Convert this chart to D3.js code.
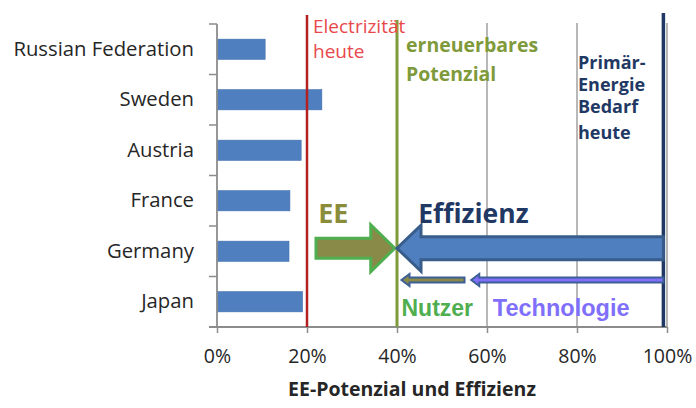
<!DOCTYPE html>
<html><head><meta charset="utf-8">
<script src="https://cdn.jsdelivr.net/npm/d3@7"></script>
<style>body{margin:0;background:#fff}svg{display:block}</style>
</head><body><svg id="c" width="696" height="408"></svg>
<script>
const categories = ["Russian Federation","Sweden","Austria","France","Germany","Japan"];
const values = [10.7, 23.3, 18.7, 16.2, 16.0, 19.0];
const xTicks = [0,20,40,60,80,100];
const refLines = [
  {name:"Electrizität heute", value:20, color:"#b42020", width:2.5},
  {name:"erneuerbares Potenzial", value:40, color:"#7f9a3a", width:3},
  {name:"Primär-Energie Bedarf heute", value:99.2, color:"#1f3864", width:3.5}
];
// arrows: from, to (values in %), row position (fraction of plot height)
const arrows = [
  {label:"EE", from:22, to:39.5, y:0.74, body:20, head:47, headLen:24, fill:"#8a8a48", stroke:"#4fae4f"},
  {label:"Effizienz", from:99.2, to:40, y:0.74, body:23, head:46, headLen:24, fill:"#4f7fbf", stroke:"#385d8a"},
  {label:"Nutzer", from:55, to:41, y:0.845, body:5, head:12, headLen:8, fill:"#8a8a48", stroke:"#3d5f95"},
  {label:"Technologie", from:99.2, to:56.5, y:0.845, body:5, head:12, headLen:8, fill:"#7f6ffa", stroke:"#3d5f95"}
];

const svg = d3.select("#c");
const m = {l:217, r:29, t:24, b:81};
const W = 696, H = 408;
const x = d3.scaleLinear().domain([0,100]).range([m.l, W-m.r]);
const y = d3.scaleBand().domain(categories).range([m.t, H-m.b]).paddingInner(0.6).paddingOuter(0.3);
const yb = d3.scaleBand().domain(categories).range([m.t, H-m.b]);
const py = v => m.t + v*(H-m.b-m.t);

// gridlines
svg.append("g").selectAll("line").data(xTicks.filter(d=>d>0)).join("line")
  .attr("x1",d=>x(d)).attr("x2",d=>x(d)).attr("y1",m.t-1).attr("y2",H-m.b)
  .attr("stroke","#a0a0a0").attr("stroke-width",1.5);

// bars
svg.append("g").selectAll("rect").data(categories).join("rect")
  .attr("x",x(0)).attr("y",d=>y(d)).attr("height",y.bandwidth())
  .attr("width",(d,i)=>x(values[i])-x(0))
  .attr("fill","#4f7fbf").attr("stroke","#3f6fae").attr("stroke-width",0.6);

// x axis
const xa = svg.append("g").attr("transform",`translate(0,${H-m.b})`)
  .call(d3.axisBottom(x).tickValues(xTicks).tickFormat(d=>d+"%").tickSize(6).tickPadding(16));
xa.select(".domain").attr("stroke","#8c8c8c").attr("stroke-width",1.8).attr("d",`M${x(0)-8},0H${x(100)}`);
xa.selectAll(".tick line").attr("stroke","#8c8c8c").attr("stroke-width",1.5);
xa.selectAll(".tick text").attr("font-family","Open Sans").attr("font-size",19.5).attr("fill","#262626");

// y axis
const ya = svg.append("g").attr("transform",`translate(${x(0)},0)`)
  .call(d3.axisLeft(yb).tickSize(0).tickPadding(23));
ya.select(".domain").attr("stroke","#8c8c8c").attr("stroke-width",1.8).attr("d",`M0,${m.t}V${H-m.b}`);
ya.selectAll(".tick text").attr("font-family","Open Sans").attr("font-size",20.3).attr("fill","#262626");
svg.append("g").selectAll("line").data(d3.range(categories.length+1)).join("line")
  .attr("x1",x(0)-8).attr("x2",x(0)).attr("y1",i=>m.t+i*yb.step()).attr("y2",i=>m.t+i*yb.step())
  .attr("stroke","#8c8c8c").attr("stroke-width",1.5);

// axis title
svg.append("text").attr("x",(x(0)+x(100))/2 - 30).attr("y",396).attr("text-anchor","middle")
  .attr("font-family","Open Sans").attr("font-weight","bold").attr("font-size",19.5).attr("fill","#262626")
  .text("EE-Potenzial und Effizienz");

// reference lines
const refTop = [15,20,13];
svg.append("g").selectAll("line").data(refLines).join("line")
  .attr("x1",d=>x(d.value)).attr("x2",d=>x(d.value)).attr("y1",(d,i)=>refTop[i]).attr("y2",H-m.b)
  .attr("stroke",d=>d.color).attr("stroke-width",d=>d.width);

// reference labels
function multi(lines, xx, ys, opts){
  const t = svg.append("text")
    .attr("font-family",opts.family).attr("font-size",opts.size).attr("font-weight",opts.weight||"normal").attr("fill",opts.color);
  lines.forEach((s,i)=>t.append("tspan").attr("x",xx).attr("y",ys[i]).text(s));
}
multi(["Electrizität","heute"], x(20)+6, [33,58], {family:"Open Sans",size:19,color:"#e8484a"});
multi(["erneuerbares","Potenzial"], x(40)+9, [52,81], {family:"Open Sans",size:19.5,weight:"bold",color:"#7f9a3a"});
multi(["Primär-","Energie","Bedarf","heute"], x(80)+1, [69,91,113,139], {family:"Open Sans",size:18,weight:"bold",color:"#1f3864"});

// arrows
function arrowPath(a){
  const x0 = x(a.from), x1 = x(a.to), yc = py(a.y);
  const dir = x1 > x0 ? 1 : -1;
  const hb = x1 - dir*a.headLen;
  return `M${x0},${yc-a.body/2}L${hb},${yc-a.body/2}L${hb},${yc-a.head/2}L${x1},${yc}L${hb},${yc+a.head/2}L${hb},${yc+a.body/2}L${x0},${yc+a.body/2}Z`;
}
svg.append("g").selectAll("path").data(arrows).join("path")
  .attr("d",arrowPath).attr("fill",d=>d.fill).attr("stroke",d=>d.stroke).attr("stroke-width",(d,i)=>i<2?3:2)
  .attr("stroke-linejoin","miter");

// arrow labels
svg.append("text").attr("x",x(22.5)).attr("y",223).attr("font-family","Open Sans").attr("font-weight","bold")
  .attr("font-size",27).attr("fill","#8a8c3a").text("EE");
svg.append("text").attr("x",x(44.7)).attr("y",223).attr("font-family","Open Sans").attr("font-weight","bold")
  .attr("font-size",26.5).attr("fill","#1f3864").text("Effizienz");
svg.append("text").attr("x",x(41)).attr("y",316).attr("font-family","Liberation Sans").attr("font-weight","bold")
  .attr("font-size",23).attr("fill","#4fae4f").text("Nutzer");
svg.append("text").attr("x",x(61.3)).attr("y",316).attr("font-family","Liberation Sans").attr("font-weight","bold")
  .attr("font-size",23.5).attr("fill","#7f6ffa").text("Technologie");
</script></body></html>
